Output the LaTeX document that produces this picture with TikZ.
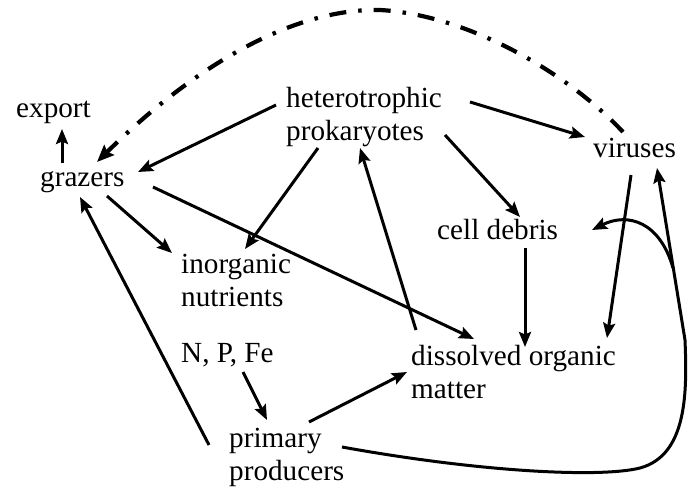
\documentclass[tikz,border=0pt]{standalone}
\usepackage{fontspec}
\setmainfont{Liberation Serif}
\usetikzlibrary{arrows.meta}
\begin{document}
\begin{tikzpicture}[x=1pt,y=-1pt,
  lbl/.style={anchor=base west,inner sep=0pt,align=left,
    font=\fontsize{29.2}{33}\selectfont},
  arr/.style={line width=3pt,-{Stealth[length=15pt,width=12pt,inset=2.5pt]}},
  dd/.style={line width=4.2pt,dash pattern=on 17pt off 12pt on 3.5pt off 12pt,
    -{Stealth[length=17pt,width=14pt,inset=2.5pt]}}]
\useasboundingbox (0,0) rectangle (693,489);
\node[lbl] (exp) at (16,118) {export};
\node[lbl] (graz) at (40,187) {grazers};
\node[lbl] (het) at (286,141) {heterotrophic\\prokaryotes};
\node[lbl] (vir) at (593,158) {viruses};
\node[lbl] (deb) at (437,240) {cell debris};
\node[lbl] (inorg) at (181,306) {inorganic\\nutrients};
\node[lbl] (npfe) at (181,362) {N, P, Fe};
\node[lbl] (dom) at (411,398) {dissolved organic\\matter};
\node[lbl] (pp) at (229,480) {primary\\producers};
% connectors
\draw[arr] ([shift={(22,-24)}]graz.base west) -- ([shift={(46,11)}]exp.base west);
\draw[arr] ([shift={(-10,-36)}]het.base west) -- ([shift={(98,-15)}]graz.base west);
\draw[dd] ([shift={(30,-26)}]vir.base west)
  .. controls (570,75) and (470,15) .. (380,10)
  .. controls (290,8) and (190,70) .. ([shift={(57,-25)}]graz.base west);
\draw[arr] ([shift={(184,-39)}]het.base west) -- ([shift={(-8,-21)}]vir.base west);
\draw[arr] ([shift={(32,7)}]het.base west) -- ([shift={(64,-57)}]inorg.base west);
\draw[arr] ([shift={(159,-6)}]het.base west) -- ([shift={(83,-23)}]deb.base west);
\draw[arr] ([shift={(67,9)}]graz.base west) -- ([shift={(-9,-53)}]inorg.base west);
\draw[arr] ([shift={(113,0)}]graz.base west) -- ([shift={(63,-59)}]dom.base west);
\draw[arr] ([shift={(-20,-35)}]pp.base west) -- ([shift={(40,10)}]graz.base west);
\draw[arr] ([shift={(62,10)}]npfe.base west) -- ([shift={(38,-60)}]pp.base west);
\draw[arr] ([shift={(80,-58)}]pp.base west) -- ([shift={(-4,-26)}]dom.base west);
\draw[arr] ([shift={(5,-68)}]dom.base west) -- ([shift={(74,7)}]het.base west);
\draw[arr] ([shift={(88,8)}]deb.base west) -- ([shift={(114,-51)}]dom.base west);
\draw[arr] ([shift={(38,17)}]vir.base west) -- ([shift={(196,-60)}]dom.base west);
\draw[arr] ([shift={(113,-33)}]pp.base west)
  .. controls (480,472) and (600,478) .. (640,468)
  .. controls (688,455) and (687,390) .. (685,340)
  -- ([shift={(64,10)}]vir.base west);
\coordinate (split) at (673,268);
\draw[arr] (split) .. controls (660,222) and (628,212) .. ([shift={(155,-10)}]deb.base west);
\end{tikzpicture}
\end{document}
